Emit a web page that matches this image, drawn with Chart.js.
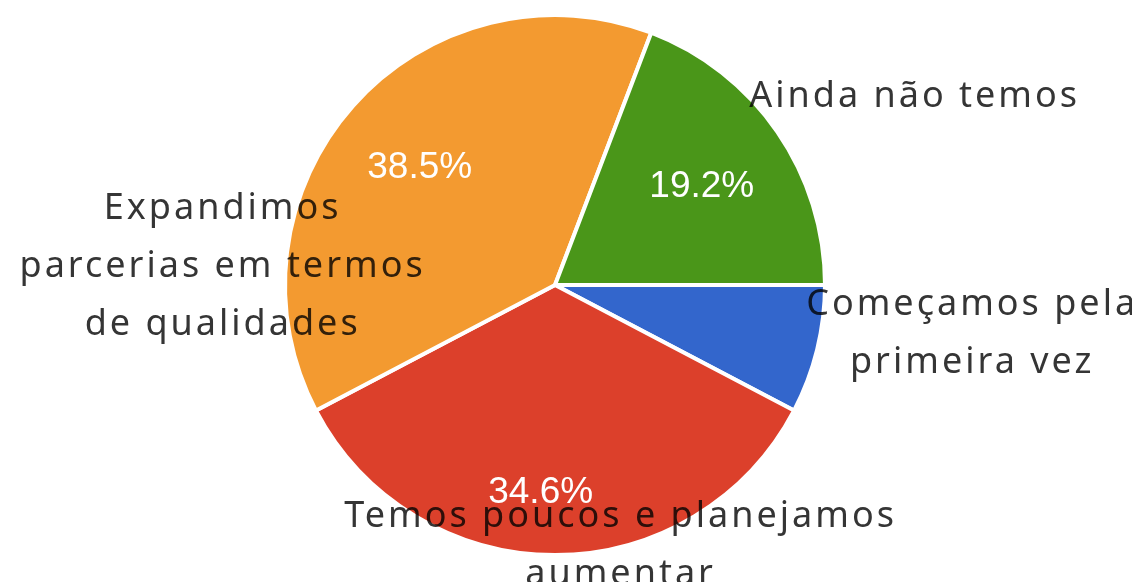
<!DOCTYPE html>
<html>
<head>
<meta charset="utf-8">
<script src="https://cdn.jsdelivr.net/npm/chart.js@4"></script>
<style>
  html, body { margin: 0; padding: 0; background: #ffffff; }
  #wrap { width: 1132px; height: 582px; position: relative; }
</style>
</head>
<body>
<div id="wrap"><canvas id="c"></canvas></div>
<script>
// ---- data ----
const categories = [
  ['Começamos pela', 'primeira vez'],
  ['Temos poucos e planejamos', 'aumentar'],
  ['Expandimos', 'parcerias em termos', 'de qualidades'],
  ['Ainda não temos']
];
const percentages = [7.7, 34.6, 38.5, 19.2];
const percentLabels = ['', '34.6%', '38.5%', '19.2%'];
const sliceColors = ['#3366cc', '#dc402b', '#f39a30', '#4a9619'];

// ---- label layout (offsets from pie centre, in units of the radius) ----
const labelOffsets = [[1.545, 0.112], [0.243, 0.896], [-1.231, -0.243], [1.332, -0.66]];
const labelLineHeight = 58;
const percentRadiusFactors = [0.7, 0.76, 0.67, 0.66];
const percentAngleShift = [0, 0.07, 0, 0.0];

const labelPlugin = {
  id: 'pieLabels',
  afterDatasetsDraw(chart) {
    const ctx = chart.ctx;
    const meta = chart.getDatasetMeta(0);
    ctx.save();
    // percentage texts inside slices
    ctx.fillStyle = '#ffffff';
    ctx.font = '37px "Liberation Sans", Arial, sans-serif';
    ctx.textAlign = 'center';
    ctx.textBaseline = 'middle';
    meta.data.forEach((arc, i) => {
      const txt = percentLabels[i];
      if (!txt) return;
      const mid = (arc.startAngle + arc.endAngle) / 2 + percentAngleShift[i];
      const rr = arc.outerRadius * percentRadiusFactors[i];
      ctx.fillText(txt, arc.x + Math.cos(mid) * rr, arc.y + Math.sin(mid) * rr + 3);
    });
    // category labels
    ctx.globalCompositeOperation = 'multiply';
    ctx.fillStyle = '#353535';
    ctx.font = '36px "Noto Sans", sans-serif';
    ctx.letterSpacing = '3px';
    ctx.textBaseline = 'alphabetic';
    meta.data.forEach((arc, i) => {
      const lines = categories[i];
      const [ox, oy] = labelOffsets[i];
      const x = arc.x + ox * arc.outerRadius;
      const y = arc.y + oy * arc.outerRadius;
      lines.forEach((ln, k) => ctx.fillText(ln, x, y + k * labelLineHeight));
    });
    ctx.restore();
  }
};

new Chart(document.getElementById('c'), {
  type: 'pie',
  data: {
    labels: categories,
    datasets: [{
      data: percentages,
      backgroundColor: sliceColors,
      borderColor: '#ffffff',
      borderWidth: 4
    }]
  },
  options: {
    responsive: true,
    maintainAspectRatio: false,
    animation: false,
    rotation: 90,
    layout: { padding: { top: 13, bottom: 25, left: 0, right: 22 } },
    plugins: { legend: { display: false }, tooltip: { enabled: false } }
  },
  plugins: [labelPlugin]
});
</script>
</body>
</html>
